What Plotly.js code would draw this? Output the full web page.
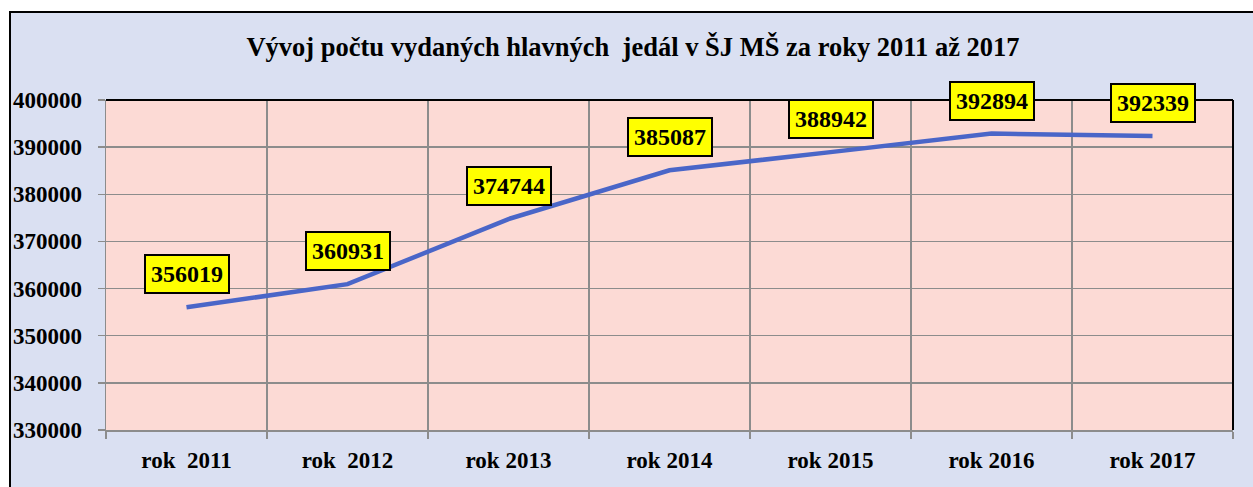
<!DOCTYPE html>
<html>
<head>
<meta charset="utf-8">
<script src="https://cdn.plot.ly/plotly-3.0.1.min.js"></script>
<style>
html,body{margin:0;padding:0;background:#ffffff;width:1253px;height:487px;overflow:hidden;}
#frame{position:absolute;left:9px;top:11px;width:1300px;height:500px;background:#dae0f2;border-left:2px solid #000;border-top:2px solid #000;}
#chart{position:absolute;left:0;top:0;width:1253px;height:487px;}
</style>
</head>
<body>
<div id="frame"></div>
<div id="chart"></div>
<script>
const categories = ["rok\u00a0\u00a02011", "rok\u00a0\u00a02012", "rok 2013", "rok 2014", "rok 2015", "rok 2016", "rok 2017"];
const values = [356019, 360931, 374744, 385087, 388942, 392894, 392339];
const yTicks = [330000, 340000, 350000, 360000, 370000, 380000, 390000, 400000];
const titleText = "Vývoj počtu vydaných hlavných\u00a0\u00a0jedál v ŠJ MŠ za roky 2011 až 2017";

const font = "'Liberation Serif', serif";

const annotations = categories.map((c, i) => ({
  x: c, y: values[i], xref: 'x', yref: 'y',
  text: '<b>' + values[i] + '</b>',
  showarrow: false, yshift: 33,
  bgcolor: '#ffff00', bordercolor: '#000000', borderwidth: 2, borderpad: 5,
  font: {family: font, size: 24, color: '#000'}
}));

const trace = {
  x: categories, y: values, type: 'scatter', mode: 'lines',
  line: {color: '#4a66c8', width: 4.5},
  hoverinfo: 'skip'
};

const layout = {
  width: 1253, height: 487,
  margin: {l: 106, r: 20, t: 100, b: 57},
  paper_bgcolor: 'rgba(0,0,0,0)',
  plot_bgcolor: '#fcdad5',
  showlegend: false,
  title: {
    text: '<b>' + titleText + '</b>',
    x: 633/1253, xanchor: 'center', xref: 'container',
    y: 1 - 47/487, yanchor: 'middle', yref: 'container',
    font: {family: font, size: 26.5, color: '#000'}
  },
  xaxis: {
    type: 'category', tickson: 'boundaries',
    showgrid: true, gridcolor: '#8c8c8c', gridwidth: 1.5,
    showline: true, linecolor: '#8c8c8c', linewidth: 1.5,
    ticks: 'outside', ticklen: 7, tickcolor: '#8c8c8c', tickwidth: 1.5,
    ticklabelstandoff: 9,
    tickfont: {family: font, size: 23, color: '#000', weight: 'bold'},
    range: [-0.5, 6.5], fixedrange: true
  },
  yaxis: {
    range: [330000, 400000], tickvals: yTicks, ticktext: yTicks.map(v => String(v)),
    showgrid: true, gridcolor: '#8c8c8c', gridwidth: 1.5,
    showline: true, linecolor: '#8c8c8c', linewidth: 1.5,
    ticks: 'outside', ticklen: 7, tickcolor: '#8c8c8c', tickwidth: 1.5,
    ticklabelstandoff: 11,
    tickfont: {family: font, size: 23, color: '#000', weight: 'bold'},
    zeroline: false, fixedrange: true
  },
  shapes: [
    {type: 'line', xref: 'paper', yref: 'paper', x0: 0, x1: 1, y0: 1, y1: 1, line: {color: '#000', width: 2}},
    {type: 'line', xref: 'paper', yref: 'paper', x0: 1, x1: 1, y0: 0, y1: 1, line: {color: '#000', width: 2}}
  ],
  annotations: annotations
};

Plotly.newPlot('chart', [trace], layout, {displayModeBar: false, staticPlot: true});
</script>
</body>
</html>
